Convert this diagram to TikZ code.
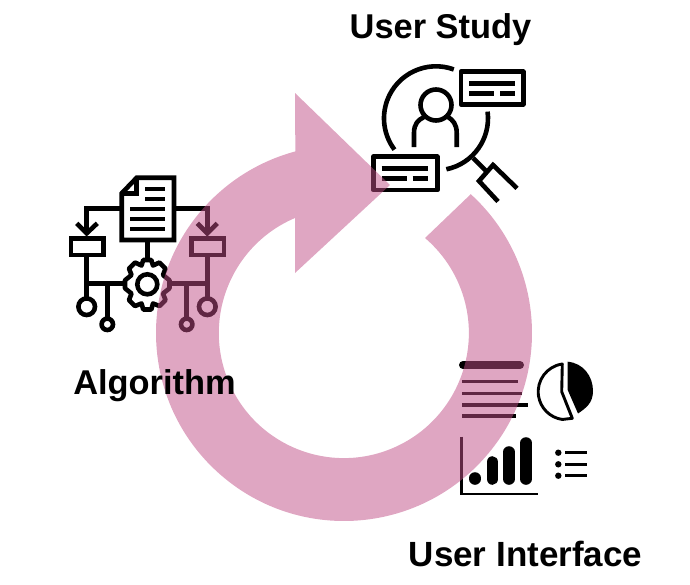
\documentclass[tikz,border=0pt]{standalone}
\usepackage{fontspec}
\setmainfont{Liberation Sans}
\begin{document}
\begin{tikzpicture}[x=1pt,y=-1pt,
  icon/.style={line width=4.6pt,black,line join=miter},
  thin icon/.style={line width=3.4pt,black},
  label/.style={font=\fontsize{34.4}{34.4}\selectfont\bfseries,text=black,inner sep=0pt,anchor=base},
  ring/.style={fill={rgb,255:red,192;green,78;blue,134},fill opacity=.5,draw=none}]
\useasboundingbox (0,0) rectangle (690,584);
% ---------- user study icon
\begin{scope}[icon]
  \draw (436,118.3) ++(-70:52) arc[start angle=-70,end angle=-217,radius=52];
  \draw (436,118.3) ++(-7.4:52) arc[start angle=-7.4,end angle=78.5,radius=52];
  \draw (436,105) circle[radius=15.5];
  \draw (414,147) -- (414,133) .. controls (414,124) and (418,120) .. (424,117);
  \draw (456.7,147) -- (456.7,133) .. controls (456.7,124) and (452.7,120) .. (448,117);
  \draw (473,158) -- (486.7,171.7);
  \draw (498,201.5) -- (479,181) -- (493,165) -- (517,188.3);
  \draw[line join=round] (461,71.7) rectangle (523.3,104.3);
  \draw[line width=5pt] (469.3,83) -- (515,83);
  \draw[line width=5pt] (469.3,93.3) -- (494.3,93.3) (500,93.3) -- (515,93.3);
  \draw[line join=round] (373.3,156.7) rectangle (437.3,190);
  \draw[line width=5pt] (381.7,168) -- (428.3,168);
  \draw[line width=5pt] (381.7,178.3) -- (407.3,178.3) (412.7,178.3) -- (428.3,178.3);
\end{scope}
% ---------- algorithm icon
\begin{scope}[icon]
  \draw (121.7,240) -- (121.7,193.3) -- (136.7,177.7) -- (174,177.7) -- (174,240) -- cycle;
  \draw (136.7,177.7) -- (136.7,193.3) -- (121.7,193.3);
  \draw (145,189) -- (165,189) (145,199) -- (165,199);
  \draw (130,209) -- (165,209) (130,219) -- (165,219) (130,229) -- (165,229);
  \draw (121.7,208.3) -- (86.7,208.3) -- (86.7,233);
  \draw (76.7,223.3) -- (86.7,233.3) -- (97.3,223.3);
  \draw (71,238.3) rectangle (103.3,255);
  \draw (86.7,255) -- (86.7,298.3);
  \draw (86.7,283.3) -- (123.3,283.3);
  \draw (107.3,283.3) -- (107.3,318.3);
  \draw (86.7,306.7) circle[radius=8.3];
  \draw (107.3,324.3) circle[radius=5.7];
  \draw (174,208.3) -- (207.3,208.3) -- (207.3,233);
  \draw (197.3,223.3) -- (207.3,233.3) -- (217.3,223.3);
  \draw (191.7,238.3) rectangle (224,255);
  \draw (207.3,255) -- (207.3,298.3);
  \draw (171.7,283.3) -- (207.3,283.3);
  \draw (186.7,283.3) -- (186.7,318.3);
  \draw (207.3,306.7) circle[radius=8.3];
  \draw (186.7,324.3) circle[radius=5.7];
  \draw (147.3,240) -- (147.3,260);
  \draw (147.3,284.3) circle[radius=10];
  \draw[line join=round] (143.3,260) -- (151.3,260) -- (153,265.5) -- (159.5,262.5) -- (165.5,268.5) -- (163,275) -- (169.5,280.3)
    -- (169.5,288.3) -- (163,293.5) -- (165.5,300) -- (159.5,306) -- (153,303.5) -- (151.3,309.5) -- (143.3,309.5)
    -- (141.5,303.5) -- (135,306) -- (129,300) -- (131.5,293.5) -- (125,288.3) -- (125,280.3) -- (131.5,275) -- (129,268.5) -- (135,262.5) -- (141.5,265.5) -- cycle;
\end{scope}
% ---------- user interface icon
\begin{scope}[black]
  \draw[line width=8pt,line cap=round] (463,365) -- (520,365);
  \draw[thin icon] (462,381.7) -- (518,381.7) (462,393.3) -- (522,393.3) (462,405) -- (527.7,405) (462,416) -- (516,416);
  \draw[line width=2.9pt,line join=round] (562.3,364) arc[start angle=-98,end angle=-262,radius=28] -- (572.3,418.3) -- (561.7,391.7) -- cycle;
  \fill (567.7,361.7) .. controls (583,363) and (593,376) .. (593,391) .. controls (593,403) and (586,408) .. (578,413.5) -- (567.7,390) -- cycle;
  \draw[line width=11.6pt,line cap=round] (475,478) -- (475,479);
  \draw[line width=11.6pt,line cap=round] (492.3,462) -- (492.3,479);
  \draw[line width=11.6pt,line cap=round] (509,452) -- (509,479);
  \draw[line width=11.6pt,line cap=round] (526,443) -- (526,479);
  \draw[line width=2.9pt] (461.7,436.7) -- (461.7,494) -- (538.3,494);
  \fill (558.3,452.7) circle[radius=3.2] (558.3,464.3) circle[radius=3.2] (558.3,475.7) circle[radius=3.2];
  \draw[line width=3pt] (565,452.7) -- (587,452.7) (565,464.3) -- (587,464.3) (565,475.7) -- (587,475.7);
\end{scope}
% ---------- cycle arrow
\fill[ring] (344,333) ++(-47.6:188)
  arc[start angle=-47.6,end angle=255,radius=188] -- (295,93) -- (390,185) -- (295,273) -- (295,218)
  arc[start angle=247,end angle=-49.5,radius=125] -- cycle;
% ---------- labels
\node[label] (study) at (440.5,38) {User Study};
\node[label] (algo) at (154.5,394) {Algorithm};
\node[label,font=\fontsize{35}{35}\selectfont\bfseries] (ui) at (525.5,566) {User Interface};
\end{tikzpicture}
\end{document}
